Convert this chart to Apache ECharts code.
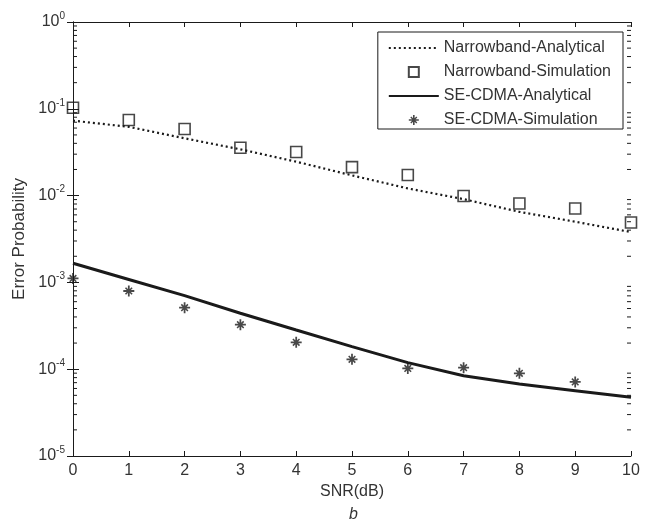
<!DOCTYPE html>
<html>
<head>
<meta charset="utf-8">
<script src="https://cdn.jsdelivr.net/npm/echarts@6/dist/echarts.min.js"></script>
<style>html,body{margin:0;padding:0;background:#fff}#c{width:648px;height:526px}</style>
</head>
<body>
<div id="c"></div>
<script>
const snr = [0, 1, 2, 3, 4, 5, 6, 7, 8, 9, 10];
const nbAnalytical = [0.073, 0.062, 0.0457, 0.0341, 0.0246, 0.0171, 0.0121, 0.0091, 0.0065, 0.0050, 0.0038];
const nbSimulation = [0.103, 0.0743, 0.0585, 0.0356, 0.0318, 0.0213, 0.0173, 0.0099, 0.0081, 0.0071, 0.0049];
const seAnalytical = [0.00166, 0.00108, 0.000703, 0.000441, 0.000283, 0.000182, 0.000119, 0.000084, 0.0000675, 0.0000566, 0.0000475];
const seSnr = [0, 1, 2, 3, 4, 5, 6, 7, 8, 9];
const seSimulation = [0.00111, 0.000796, 0.000512, 0.000326, 0.000204, 0.00013, 0.000102, 0.000104, 0.0000896, 0.0000713];
const seriesNames = ['Narrowband-Analytical', 'Narrowband-Simulation', 'SE-CDMA-Analytical', 'SE-CDMA-Simulation'];

const FONT = 'Liberation Sans, Arial, sans-serif';
const INK = '#1a1a1a';
const TXT = '#333';
const FS = 16;
const starPath = 'path://M4.2 0h1.6v10h-1.6z M0 4.2h10v1.6h-10z M2.5 1.5L8.5 7.5L7.5 8.5L1.5 2.5z M8.5 2.5L2.5 8.5L1.5 7.5L7.5 1.5z';
const squarePath = 'path://M0 0h10v10h-10z';

const minorTicks = [];
for (let e = -5; e < 0; e++) {
  for (let m = 2; m <= 9; m++) minorTicks.push([0, m * Math.pow(10, e)]);
}
const pair = (xs, ys) => xs.map((x, i) => [x, ys[i]]);

const chart = echarts.init(document.getElementById('c'), null, {renderer: 'canvas'});
const xCommon = {type: 'value', min: 0, max: 10, interval: 1,
  axisLine: {lineStyle: {color: INK, width: 1}}, splitLine: {show: false},
  axisTick: {inside: true, length: 5, lineStyle: {color: INK}}};
const yCommon = {type: 'log', logBase: 10, min: 1e-5, max: 1,
  axisLine: {lineStyle: {color: INK, width: 1}}, splitLine: {show: false},
  axisTick: {inside: true, length: 6, lineStyle: {color: INK}}};
const hiddenSymbol = {color: 'rgba(0,0,0,0)', borderWidth: 0, opacity: 0};

chart.setOption({
  animation: false,
  backgroundColor: '#fff',
  textStyle: {fontFamily: FONT},
  title: {text: 'b', left: 344, top: 502, textStyle: {fontFamily: FONT, fontStyle: 'italic', fontWeight: 'normal', fontSize: FS, color: TXT}},
  grid: {left: 73, right: 17, top: 22, bottom: 70},
  legend: {
    data: [
      {name: seriesNames[0], itemStyle: hiddenSymbol},
      {name: seriesNames[1], icon: squarePath},
      {name: seriesNames[2], itemStyle: hiddenSymbol},
      {name: seriesNames[3]}
    ],
    orient: 'vertical', right: 25, top: 32,
    padding: [8, 12, 1, 10], itemWidth: 50, itemHeight: 10, itemGap: 8,
    borderColor: INK, borderWidth: 1, backgroundColor: '#fff',
    textStyle: {fontFamily: FONT, fontSize: FS, color: TXT}
  },
  xAxis: [
    Object.assign({}, xCommon, {position: 'bottom', name: 'SNR(dB)', nameLocation: 'middle', nameGap: 28,
      nameTextStyle: {fontFamily: FONT, fontSize: FS, color: TXT},
      axisLabel: {fontFamily: FONT, fontSize: FS, color: TXT, margin: 7}}),
    Object.assign({}, xCommon, {position: 'top', axisLabel: {show: false}})
  ],
  yAxis: [
    Object.assign({}, yCommon, {position: 'left', name: 'Error Probability', nameLocation: 'middle', nameGap: 44,
      nameTextStyle: {fontFamily: FONT, fontSize: FS + 1, color: TXT},
      axisLabel: {fontFamily: FONT, color: TXT, margin: 8,
        formatter: v => '{b|10}{s|' + Math.round(Math.log10(v)) + '}',
        rich: {b: {fontSize: FS, fontFamily: FONT, color: TXT}, s: {fontSize: 10, fontFamily: FONT, color: TXT, padding: [0, 0, 12, 0]}}}}),
    Object.assign({}, yCommon, {position: 'right', axisLabel: {show: false}})
  ],
  series: [
    {name: seriesNames[0], type: 'line', data: pair(snr, nbAnalytical), showSymbol: false, symbol: 'none',
      lineStyle: {color: INK, width: 2.2, type: [2, 3]}, itemStyle: {color: INK}, z: 3},
    {name: seriesNames[1], type: 'scatter', data: pair(snr, nbSimulation), symbol: squarePath, symbolSize: 11,
      itemStyle: {color: 'rgba(0,0,0,0)', borderColor: INK, borderWidth: 1.6}, z: 4},
    {name: seriesNames[2], type: 'line', data: pair(snr, seAnalytical), showSymbol: false, symbol: 'none',
      lineStyle: {color: INK, width: 3}, itemStyle: {color: INK}, z: 3},
    {name: seriesNames[3], type: 'scatter', data: pair(seSnr, seSimulation), symbol: starPath, symbolSize: 11,
      itemStyle: {color: INK}, z: 4},
    {name: 'minor', type: 'custom', data: minorTicks, silent: true, z: 2,
      renderItem: (params, api) => {
        const v = api.value(1);
        const pl = api.coord([0, v]);
        const pr = api.coord([10, v]);
        return {type: 'group', children: [
          {type: 'line', shape: {x1: pl[0], y1: pl[1], x2: pl[0] + 4, y2: pl[1]}, style: {stroke: INK, lineWidth: 1}},
          {type: 'line', shape: {x1: pr[0] - 4, y1: pr[1], x2: pr[0], y2: pr[1]}, style: {stroke: INK, lineWidth: 1}}
        ]};
      }}
  ]
});
</script>
</body>
</html>
